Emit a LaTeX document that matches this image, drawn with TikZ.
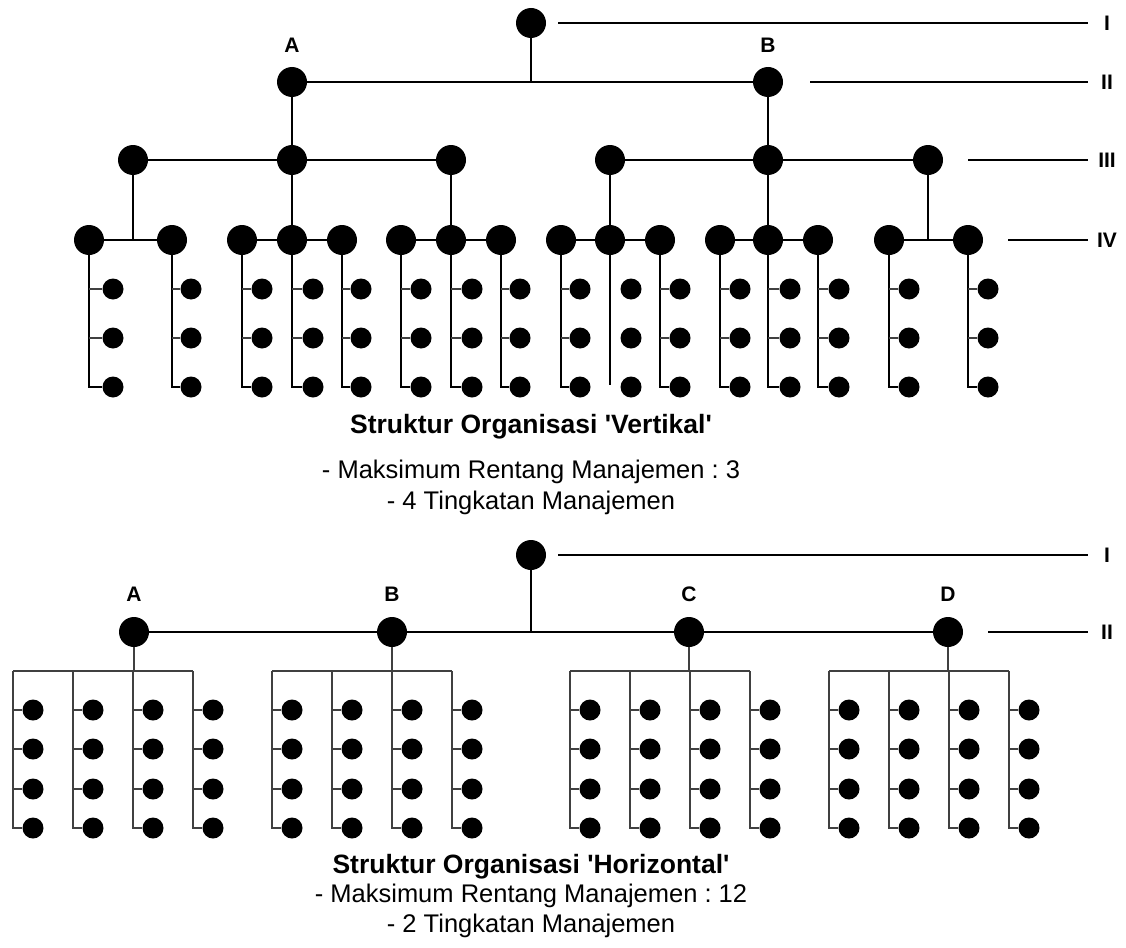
\documentclass[tikz,border=0pt]{standalone}
\usepackage{fontspec}
\setmainfont{Liberation Sans}
\frenchspacing
\begin{document}
\begin{tikzpicture}[x=1pt,y=-1pt,
  big/.style={circle,fill=black,inner sep=0pt,minimum size=30pt},
  leaf/.style={circle,fill=black,inner sep=0pt,minimum size=21pt},
  main/.style={line width=1.8pt,black},
  stem/.style={line width=1.5pt,black},
  thin/.style={line width=1.1pt,black!75},
  lvl/.style={font=\fontsize{21}{24}\selectfont\bfseries,inner sep=0pt},
  ttl/.style={font=\fontsize{26.5}{30}\selectfont\bfseries,anchor=base,inner sep=0pt},
  sub/.style={font=\fontsize{25.5}{30}\selectfont,anchor=base,inner sep=0pt},
]
\useasboundingbox (0,0) rectangle (1126,947);

% ---------------- vertical structure ----------------
\node[big] (T) at (531,23) {};
\node[big] (TA) at (292,82) {};
\node[big] (TB) at (768,82) {};
\node[lvl] (labTA) at (292,45) {A};
\node[lvl] (labTB) at (768,45) {B};
\draw[main] (TA) -- (TB);
\draw[main] (T) -- (T |- TA);

% level III
\foreach \n/\x in {1/133,2/292,3/451,4/610,5/768,6/928}
  \node[big] (C\n) at (\x,160) {};
\draw[main] (C1) -- (C2) -- (C3);
\draw[main] (C4) -- (C5) -- (C6);
\draw[main] (TA) -- (C2);
\draw[main] (TB) -- (C5);

% level IV
\foreach \n/\x in {1/89,2/172,3/242,4/292,5/342,6/401,7/451,8/501,
                   9/561,10/610,11/660,12/720,13/768,14/818,15/889,16/968}
  \node[big] (D\n) at (\x,240) {};
\draw[main] (D1) -- (D2);
\draw[main] (C1) -- (C1 |- D1);
\draw[main] (D3) -- (D4) -- (D5);
\draw[main] (C2) -- (D4);
\draw[main] (D6) -- (D7) -- (D8);
\draw[main] (C3) -- (D7);
\draw[main] (D9) -- (D10) -- (D11);
\draw[main] (C4) -- (D10);
\draw[main] (D12) -- (D13) -- (D14);
\draw[main] (C5) -- (D13);
\draw[main] (D15) -- (D16);
\draw[main] (C6) -- (C6 |- D15);

% staff under each level IV unit
\foreach \n/\lx in {1/113,2/191,3/262,4/313,5/361,6/421,7/472,8/520,
                    9/580,10/631,11/680,12/740,13/790,14/839,15/909,16/988}{
  \node[leaf] (L\n-1) at (\lx,289) {};
  \node[leaf] (L\n-2) at (\lx,338) {};
  \node[leaf] (L\n-3) at (\lx,387) {};
  \ifnum\n=10
    \coordinate (E\n) at (D\n |- 0,385);
    \draw[stem] (D\n) -- (E\n);
  \else
    \draw[stem] (D\n) |- (L\n-3);
    \draw[thin] (D\n |- L\n-1) -- (L\n-1);
    \draw[thin] (D\n |- L\n-2) -- (L\n-2);
  \fi
}

% level markers
\foreach \k/\xs/\y/\t in {1/558/23/I,2/810/82/II,3/968/160/III,4/1008/240/IV}{
  \coordinate (VS\k) at (\xs,\y);
  \coordinate (VE\k) at (1088,\y);
  \draw[main] (VS\k) -- (VE\k);
  \node[lvl] (VL\k) at (1107,\y) {\t};
}

\node[ttl] (t1) at (531,433) {Struktur Organisasi \textquotesingle Vertikal\textquotesingle};
\node[sub] (t2) at (531,478) {- Maksimum Rentang Manajemen : 3};
\node[sub] (t3) at (531,509) {- 4 Tingkatan Manajemen};

% ---------------- horizontal structure ----------------
\node[big] (H) at (531,555) {};
\foreach \g/\x in {A/134,B/392,C/689,D/948}{
  \node[big] (H\g) at (\x,632) {};
  \node[lvl] (labH\g) at (\x,594) {\g};
}
\draw[main] (HA) -- (HB) -- (HC) -- (HD);
\draw[main] (H) -- (H |- HA);

\foreach \g/\x in {A/133,B/392,C/690,D/949}{
  \foreach \c/\dx in {1/-120,2/-60,3/0,4/60}{
    \coordinate (B\g\c) at (\x+\dx,671);
    \foreach \r/\y in {1/710,2/749,3/789,4/828}
      \node[leaf] (S\g\c\r) at (\x+\dx+20,\y) {};
    \draw[thin] (B\g\c) |- (S\g\c4);
    \draw[thin] (B\g\c |- S\g\c1) -- (S\g\c1);
    \draw[thin] (B\g\c |- S\g\c2) -- (S\g\c2);
    \draw[thin] (B\g\c |- S\g\c3) -- (S\g\c3);
  }
  \draw[thin] (B\g1) -- (B\g4);
  \draw[thin] (H\g) -- (H\g |- B\g3);
}

\foreach \k/\xs/\y/\t in {1/558/555/I,2/988/632/II}{
  \coordinate (WS\k) at (\xs,\y);
  \coordinate (WE\k) at (1088,\y);
  \draw[main] (WS\k) -- (WE\k);
  \node[lvl] (WL\k) at (1107,\y) {\t};
}

\node[ttl] (b1) at (531,873) {Struktur Organisasi \textquotesingle Horizontal\textquotesingle};
\node[sub] (b2) at (531,902) {- Maksimum Rentang Manajemen : 12};
\node[sub] (b3) at (531,932) {- 2 Tingkatan Manajemen};
\end{tikzpicture}
\end{document}
